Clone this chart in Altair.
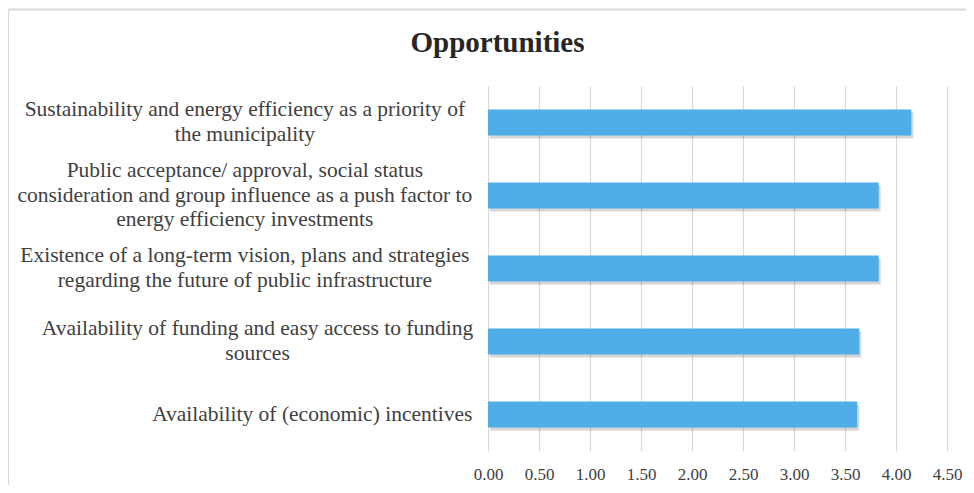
import altair as alt
import pandas as pd

categories = [
    "Sustainability and energy efficiency as a priority of|the municipality",
    "Public acceptance/ approval, social status|consideration and group influence as a push factor to|energy efficiency investments",
    "Existence of a long-term vision, plans and strategies|regarding the future of public infrastructure",
    "Availability of funding and easy access to funding|sources",
    "Availability of (economic) incentives",
]
values = [4.15, 3.83, 3.83, 3.64, 3.62]
x_ticks = [0.0, 0.5, 1.0, 1.5, 2.0, 2.5, 3.0, 3.5, 4.0, 4.5]
title_text = "Opportunities"

df = pd.DataFrame({"label": categories, "value": values})

FONT = "Liberation Serif"
TXT = "#404040"
LH = 24.5

yenc = alt.Y(
    "label:N",
    sort=categories,
    axis=None,
    scale=alt.Scale(paddingInner=0.644, paddingOuter=0.322),
)
xenc = alt.X(
    "value:Q",
    scale=alt.Scale(domain=[0, 4.5], nice=False),
    axis=alt.Axis(
        values=x_ticks,
        format=".2f",
        grid=True,
        gridColor="#d9d9d9",
        gridWidth=1.2,
        ticks=False,
        domain=False,
        labelFont=FONT,
        labelFontSize=17,
        labelColor=TXT,
        labelPadding=15,
        labelFlush=False,
        labelOverlap=False,
        title=None,
    ),
)

base = alt.Chart(df)

shadow = base.mark_bar(color="#000000", opacity=0.16, xOffset=2, yOffset=3).encode(
    x=xenc, y=yenc
)
bars = base.mark_bar(color="#4FAEE8").encode(x=xenc, y=yenc)

parts = "split(datum.label,'|')"
maxlen = (
    f"max(length({parts}[0]),"
    f" length({parts}[1] || ''),"
    f" length({parts}[2] || ''))"
)
labels = base.mark_text(
    align="center",
    baseline="middle",
    font=FONT,
    fontSize=21.5,
    lineHeight=LH,
    color=TXT,
    text={"expr": parts},
    dx={"expr": f"-4.21*{maxlen}"},
    dy={"expr": f"-{LH / 2}*(length({parts})-1)"},
).encode(y=yenc, x=alt.value(-20))

frame = (
    alt.Chart(pd.DataFrame({"f": [0]}))
    .mark_rect(filled=False, stroke="#d9d9d9", strokeWidth=2)
    .encode(
        x=alt.value(-480),
        x2=alt.value(600),
        y=alt.value(-76.5),
        y2=alt.value(500),
    )
)

chart = (
    alt.layer(frame, shadow, bars, labels)
    .properties(
        width=459,
        height=365,
        padding={"left": 480, "top": 78, "right": 19, "bottom": 34},
        autosize=alt.AutoSizeParams(type="none"),
        title=alt.Title(
            title_text,
            font=FONT,
            fontSize=29,
            fontWeight="bold",
            color="#262626",
            anchor="middle",
            frame="group",
            baseline="alphabetic",
            offset=-72,
            dx=-220,
        ),
    )
    .configure_view(strokeWidth=0)
)

chart.save("out.html", embed_options={"renderer": "svg", "actions": False})
